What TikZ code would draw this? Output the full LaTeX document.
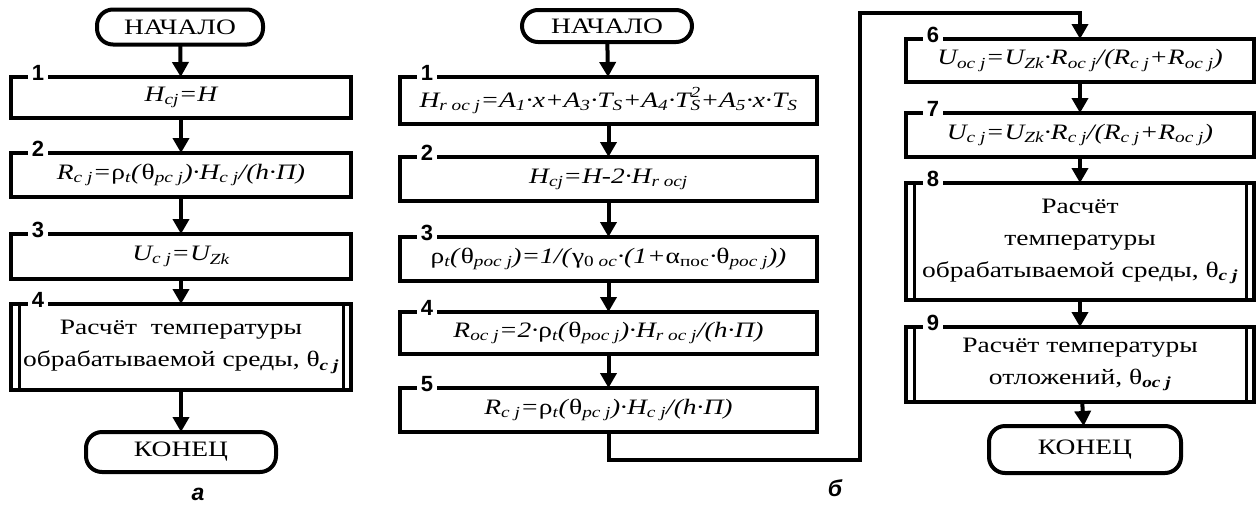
\documentclass[tikz,border=0pt]{standalone}
\usepackage{fontspec}
\setmainfont{Liberation Serif}[FakeStretch=1.25]
\newfontfamily\numfont{Liberation Sans}
\usetikzlibrary{positioning, arrows.meta}

\newcommand{\lo}[1]{\textsubscript{#1}}
\newcommand{\lohi}[2]{\rlap{\raisebox{3pt}{\textsuperscript{#2}}}\textsubscript{#1}}
\newcommand{\g}[1]{\textup{#1}}
\newcommand{\bsub}[1]{\textsubscript{\bfseries\itshape #1}}

\tikzset{
  term/.style={draw, line width=4pt, rounded corners=16pt, inner sep=0pt, outer sep=0pt,
    font=\fontsize{22}{26}\selectfont},
  proc/.style={draw, line width=4pt, inner sep=0pt, outer sep=0pt, align=center,
    font=\fontsize{22}{26}\selectfont\itshape},
  txtbox/.style={proc, font=\fontsize{22}{32}\selectfont},
  num/.style={fill=white, inner sep=4pt, font=\numfont\bfseries\fontsize{22}{22}\selectfont},
  arr/.style={line width=4pt, -{Triangle[length=15pt,width=16pt]}},
  inner/.style={line width=3pt},
  figlabel/.style={font=\numfont\bfseries\itshape\fontsize{23}{23}\selectfont}
}

\begin{document}
\begin{tikzpicture}[x=1pt, y=-1pt]
    \useasboundingbox (0,0) rectangle (1258,504);

    % Column a
    \node[term, minimum width=166pt, minimum height=35pt] (a0) at (180,27) {НАЧАЛО};
    \node[proc, minimum width=340pt, minimum height=41pt] (a1) at (181,97.5) {H\lo{cj}=H};
    \node[proc, minimum width=340pt, minimum height=44pt] (a2) at (181,175)
        {R\lo{c j}=\g{ρ}\lo{t}(\g{θ}\lo{pc j})·H\lo{c j}/(h·П)};
    \node[proc, minimum width=340pt, minimum height=45pt] (a3) at (181,256.5) {U\lo{c j}=U\lo{Zk}};
    \node[txtbox, minimum width=340pt, minimum height=86pt] (a4) at (181,347)
        {Расчёт\ \ температуры\\обрабатываемой среды, θ\bsub{c j}};
    \node[term, minimum width=190pt, minimum height=40pt] (a5) at (181,452) {КОНЕЦ};

    % Column b
    \node[term, minimum width=170pt, minimum height=32pt] (b0) at (607,26) {НАЧАЛО};
    \node[proc, minimum width=417pt, minimum height=47pt] (b1) at (608.5,100.5)
        {H\lo{r oc j}=A\lo{1}·x+A\lo{3}·T\lo{S}+A\lo{4}·T\lohi{S}{2}+A\lo{5}·x·T\lo{S}};
    \node[proc, minimum width=417pt, minimum height=44pt] (b2) at (608.5,179)
        {H\lo{cj}=H-2·H\lo{r ocj}};
    \node[proc, minimum width=417pt, minimum height=44pt] (b3) at (608.5,259)
        {\g{ρ}\lo{t}(\g{θ}\lo{poc j})=1/(\g{γ}\lo{\textup{0} oc}·(1+\g{α}\lo{\textup{пос}}·\g{θ}\lo{poc j}))};
    \node[proc, minimum width=417pt, minimum height=42pt] (b4) at (608.5,333)
        {R\lo{oc j}=2·\g{ρ}\lo{t}(\g{θ}\lo{poc j})·H\lo{r oc j}/(h·П)};
    \node[proc, minimum width=417pt, minimum height=44pt] (b5) at (608.5,410)
        {R\lo{c j}=\g{ρ}\lo{t}(\g{θ}\lo{pc j})·H\lo{c j}/(h·П)};

    % Column b, right part
    \node[proc, minimum width=348pt, minimum height=43pt] (c6) at (1080,60.5)
        {U\lo{oc j}=U\lo{Zk}·R\lo{oc j}/(R\lo{c j}+R\lo{oc j})};
    \node[proc, minimum width=348pt, minimum height=44pt] (c7) at (1080,135)
        {U\lo{c j}=U\lo{Zk}·R\lo{c j}/(R\lo{c j}+R\lo{oc j})};
    \node[txtbox, minimum width=348pt, minimum height=117pt] (c8) at (1080,241.5)
        {Расчёт\\температуры\\обрабатываемой среды, θ\bsub{c j}};
    \node[txtbox, minimum width=348pt, minimum height=75pt] (c9) at (1080,364.5)
        {Расчёт температуры\\отложений, θ\bsub{oc j}};
    \node[term, minimum width=192pt, minimum height=47pt] (c10) at (1085,449.5) {КОНЕЦ};

    % Predefined process sides
    \foreach \n in {a4,c8,c9}
        \draw[inner] ([xshift=8pt]\n.north west) -- ([xshift=8pt]\n.south west)
                     ([xshift=-8pt]\n.north east) -- ([xshift=-8pt]\n.south east);

    % Block numbers
    \foreach \n/\t in {a1/1,a2/2,a3/3,a4/4,b1/1,b2/2,b3/3,b4/4,b5/5,c6/6,c7/7,c8/8,c9/9}
        \node[num] (\n num) at ([xshift=27pt,yshift=4pt]\n.north west) {\t};

    % Flow
    \draw[arr] (a0) -- (a1);
    \draw[arr] (a1) -- (a2);
    \draw[arr] (a2) -- (a3);
    \draw[arr] (a3) -- (a4);
    \draw[arr] (a4) -- (a5);
    \draw[arr] (b0) -- (b1);
    \draw[arr] (b1) -- (b2);
    \draw[arr] (b2) -- (b3);
    \draw[arr] (b3) -- (b4);
    \draw[arr] (b4) -- (b5);
    \coordinate (loopB) at (860,460);
    \coordinate (loopT) at (860,13);
    \draw[arr] (b5.south) |- (loopB) -- (loopT) -| (c6.north);
    \draw[arr] (c6) -- (c7);
    \draw[arr] (c7) -- (c8);
    \draw[arr] (c8) -- (c9);
    \draw[arr] (c9) -- (c10);

    % Captions
    \node[figlabel] (capa) at (198,494) {а};
    \node[figlabel] (capb) at (835,488) {б};
\end{tikzpicture}
\end{document}
